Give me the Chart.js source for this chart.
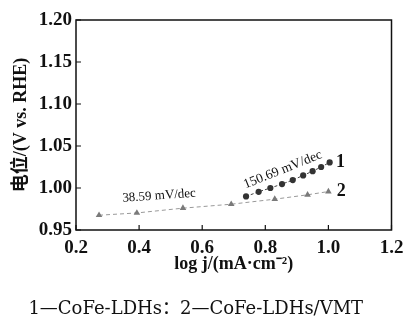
<!DOCTYPE html>
<html>
<head>
<meta charset="utf-8">
<script src="https://cdn.jsdelivr.net/npm/chart.js@4"></script>
<style>
html,body{margin:0;padding:0;background:#fff;}
#wrap{width:404px;height:322px;position:relative;}
</style>
</head>
<body>
<div id="wrap"><canvas id="c" width="404" height="322"></canvas></div>
<script>
// ---- data ----
const seriesNames = ['1 CoFe-LDHs', '2 CoFe-LDHs/VMT'];
const x1 = [0.739, 0.779, 0.816, 0.853, 0.887, 0.920, 0.950, 0.977, 1.004];
const y1 = [0.990, 0.9955, 1.000, 1.0047, 1.0094, 1.015, 1.020, 1.025, 1.0305];
const x2 = [0.273, 0.393, 0.539, 0.692, 0.830, 0.934, 1.000];
const y2 = [0.9676, 0.9703, 0.976, 0.9807, 0.9867, 0.9919, 0.9958];
const xTicks = [0.2, 0.4, 0.6, 0.8, 1.0, 1.2];
const yTicks = [0.95, 1.00, 1.05, 1.10, 1.15, 1.20];
const slopeLabels = ['38.59 mV/dec', '150.69 mV/dec'];
const curveLabels = ['1', '2'];
const caption = '1—CoFe-LDHs：2—CoFe-LDHs/VMT';

const pts = (xs, ys) => xs.map((x, i) => ({x: x, y: ys[i]}));

// annotation placement (data units) and style
const annotations = [
  {text: slopeLabels[0], x: 0.4635, y: 0.9907, rot: -4, font: 'normal 13px "Liberation Serif"'},
  {text: slopeLabels[1], x: 0.8556, y: 1.0218, rot: -22, font: 'normal 13.5px "Liberation Serif"'},
  {text: curveLabels[0], x: 1.038, y: 1.030, rot: 0, font: 'bold 18px "Liberation Serif"'},
  {text: curveLabels[1], x: 1.041, y: 0.9955, rot: 0, font: 'bold 18px "Liberation Serif"'}
];

const framePlugin = {
  id: 'frame',
  afterDatasetsDraw(chart) {
    const {ctx, chartArea: a, scales} = chart;
    ctx.save();
    ctx.strokeStyle = '#111';
    ctx.lineWidth = 1.5;
    ctx.strokeRect(a.left, a.top, a.right - a.left, a.bottom - a.top);
    ctx.lineWidth = 1.2;
    ctx.beginPath();
    scales.x.ticks.forEach((t, i) => {
      const px = scales.x.getPixelForTick(i);
      ctx.moveTo(px, a.bottom); ctx.lineTo(px, a.bottom - 5);
    });
    scales.y.ticks.forEach((t, i) => {
      const py = scales.y.getPixelForTick(i);
      ctx.moveTo(a.left, py); ctx.lineTo(a.left + 5, py);
    });
    ctx.stroke();
    // annotations
    ctx.fillStyle = '#111';
    ctx.textAlign = 'center';
    ctx.textBaseline = 'middle';
    annotations.forEach(an => {
      const px = scales.x.getPixelForValue(an.x);
      const py = scales.y.getPixelForValue(an.y);
      ctx.save();
      ctx.translate(px, py);
      ctx.rotate(an.rot * Math.PI / 180);
      ctx.font = an.font;
      ctx.fillText(an.text, 0, 0);
      ctx.restore();
    });
    ctx.restore();
  }
};

new Chart(document.getElementById('c'), {
  type: 'scatter',
  data: {
    datasets: [
      {
        label: seriesNames[0],
        data: pts(x1, y1),
        showLine: true,
        borderColor: '#444',
        borderWidth: 1,
        borderDash: [3, 2],
        pointStyle: 'circle',
        pointRadius: 3.1,
        pointBackgroundColor: '#333',
        pointBorderColor: '#333',
        pointBorderWidth: 0
      },
      {
        label: seriesNames[1],
        data: pts(x2, y2),
        showLine: true,
        borderColor: '#999',
        borderWidth: 1,
        borderDash: [4, 3],
        pointStyle: 'triangle',
        pointRadius: 3.8,
        pointBackgroundColor: '#7a7a7a',
        pointBorderColor: '#7a7a7a',
        pointBorderWidth: 0
      }
    ]
  },
  options: {
    responsive: false,
    animation: false,
    devicePixelRatio: 1,
    layout: {padding: {left: 0, right: 12.5, top: 20, bottom: 0}},
    plugins: {
      legend: {display: false},
      tooltip: {enabled: false},
      title: {
        display: true,
        position: 'bottom',
        text: caption,
        color: '#111',
        font: {family: '"DejaVu Serif", "Noto Sans CJK SC"', size: 18, weight: 'normal', lineHeight: 1.2},
        padding: {top: 11, bottom: 2}
      }
    },
    scales: {
      x: {
        type: 'linear',
        min: 0.2, max: 1.2,
        afterBuildTicks: s => { s.ticks = xTicks.map(v => ({value: v})); },
        afterFit: s => { s.height = 57.4; s.paddingLeft = 0; s.paddingRight = 0; },
        grid: {display: false, drawTicks: false},
        border: {display: false},
        ticks: {
          color: '#111', padding: 7,
          font: {family: '"Liberation Serif"', size: 19, weight: 'bold'},
          callback: v => v.toFixed(1)
        },
        title: {
          display: true, text: 'log j/(mA·cm⁻²)', color: '#111',
          font: {family: '"Liberation Serif"', size: 18, weight: 'bold', lineHeight: 1.2},
          padding: {top: 0, bottom: 12}
        }
      },
      y: {
        type: 'linear',
        min: 0.95, max: 1.20,
        afterBuildTicks: s => { s.ticks = yTicks.map(v => ({value: v})); },
        afterFit: s => { s.width = 76; s.paddingTop = 0; s.paddingBottom = 0; },
        grid: {display: false, drawTicks: false},
        border: {display: false},
        ticks: {
          color: '#111', padding: 4,
          font: {family: '"Liberation Serif"', size: 19, weight: 'bold'},
          callback: v => v.toFixed(2)
        },
        title: {
          display: true, text: '电位/(V vs. RHE)', color: '#111',
          font: {family: '"Liberation Serif", "Noto Sans CJK SC"', size: 18, weight: 'bold', lineHeight: 1.2},
          padding: {top: 11, bottom: 0}
        }
      }
    }
  },
  plugins: [framePlugin]
});
</script>
</body>
</html>
